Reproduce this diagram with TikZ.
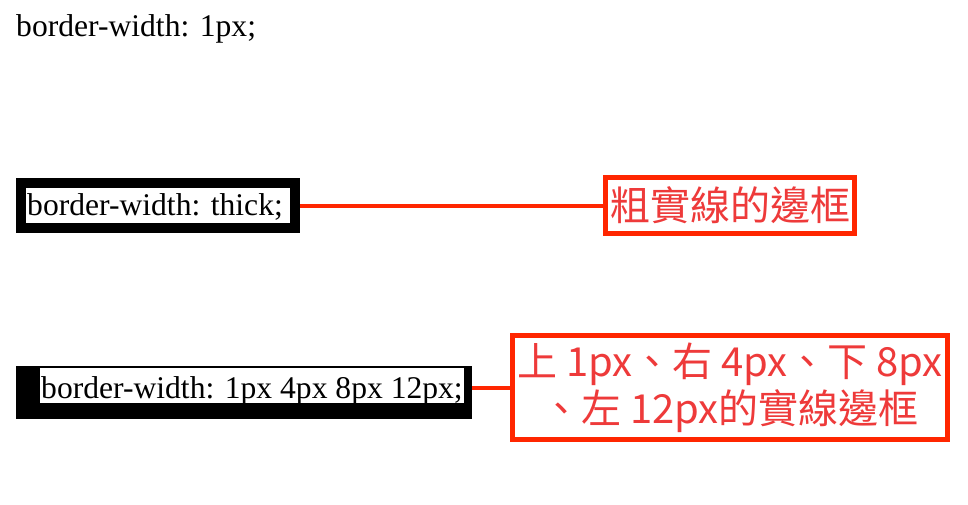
\documentclass[tikz,border=0pt]{standalone}
\usepackage{fontspec}
\setmainfont{Liberation Serif}
\newfontfamily\cjk{Noto Sans CJK TC}
\definecolor{annored}{RGB}{255,38,0}
\definecolor{annotext}{RGB}{238,58,58}
\begin{document}
\begin{tikzpicture}[x=1pt,y=-1pt,
  csstext/.style={anchor=base west,inner sep=0pt,font=\fontsize{31.6}{38}\selectfont},
  annobox/.style={draw=annored,line width=5pt,inner sep=0pt,align=center,
    text=annotext,font=\cjk\fontsize{40}{47}\selectfont},
  annoline/.style={draw=annored,line width=4pt}]
\useasboundingbox[fill=white] (0,0) rectangle (968,504);
% box 1
\node[csstext] (t1) at (16,36) {border-width: 1px;};
% box 2 (thick)
\node[draw=black,line width=10pt,minimum width=274pt,minimum height=45pt,inner sep=0pt] (b2) at (158,205.5) {};
\node[csstext] (t2) at (27,215) {border-width: thick;};
% box 3
\node[fill=black,minimum width=456pt,minimum height=53pt,inner sep=0pt] (b3) at (244,392.5) {};
\fill[white] (40,368) rectangle (464,403);
\node[csstext] (t3) at (41,398) {border-width: 1px 4px 8px 12px;};
% annotations
\node[annobox,minimum width=249pt,minimum height=56pt] (r2) at (730,205.5) {粗實線的邊框};
\node[annobox,minimum width=435pt,minimum height=104pt] (r3) at (730,387.5) {上 1px、右 4px、下 8px\\、左 12px的實線邊框};
\draw[annoline] (b2.east) -- (r2.west);
\draw[annoline] (b3.east |- r3.west) -- (r3.west);
\end{tikzpicture}
\end{document}
